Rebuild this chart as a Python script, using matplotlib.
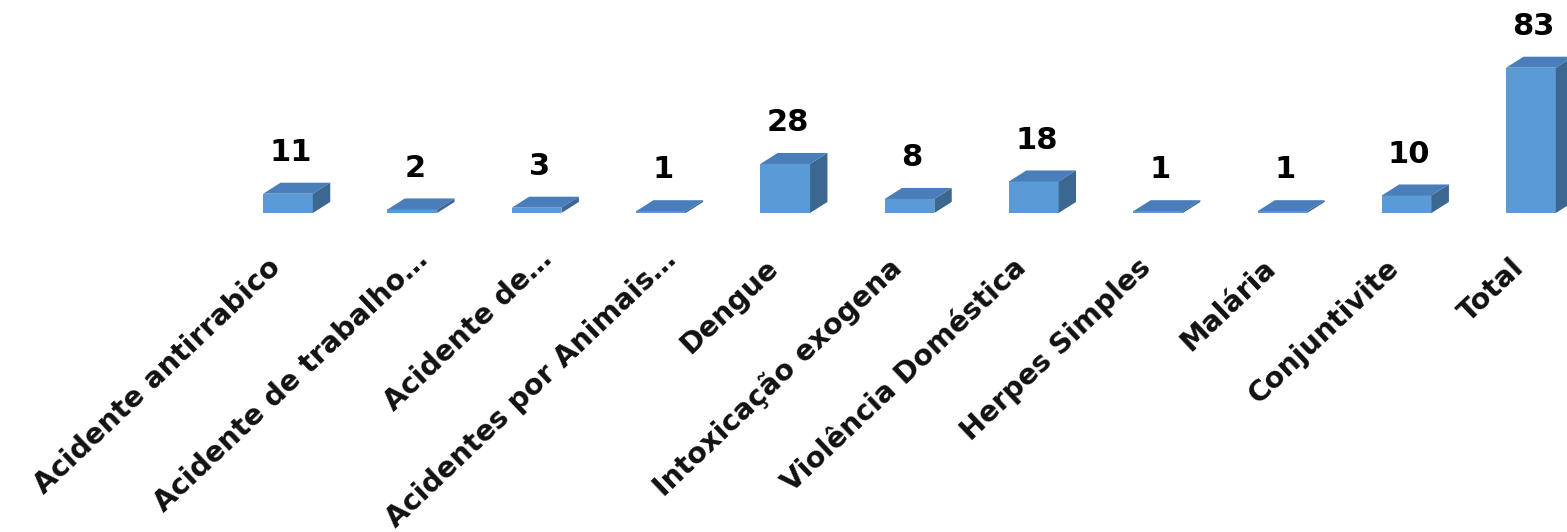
import matplotlib
matplotlib.use("Agg")
import matplotlib.pyplot as plt
from matplotlib.patches import Polygon

categories = ["Acidente antirrabico", "Acidente de trabalho…", "Acidente de…",
              "Acidentes por Animais…", "Dengue", "Intoxicação exogena",
              "Violência Doméstica", "Herpes Simples", "Malária", "Conjuntivite", "Total"]
values = [11, 2, 3, 1, 28, 8, 18, 1, 1, 10, 83]

plt.rcParams['font.family'] = ['DejaVu Sans']

fig = plt.figure(figsize=(15.67, 5.32), dpi=100)
ax = fig.add_axes([0, 0, 1, 1])
ax.set_xlim(-2.317, 10.29)
ax.set_ylim(-182.3, 121.7)
ax.axis('off')

front = '#5B9BD5'
top = '#4A7EBB'
side = '#3B6791'
w = 0.40      # bar front width (x units)
dx = 0.14     # depth offset x
dy = 6.3      # depth offset y (value units)

for i, v in enumerate(values):
    x0, x1 = i - w / 2, i + w / 2
    ax.add_patch(Polygon([(x0, 0), (x1, 0), (x1, v), (x0, v)], closed=True,
                         facecolor=front, edgecolor='none'))
    ax.add_patch(Polygon([(x0, v), (x1, v), (x1 + dx, v + dy), (x0 + dx, v + dy)],
                         closed=True, facecolor=top, edgecolor='none'))
    ax.add_patch(Polygon([(x1, 0), (x1 + dx, dy), (x1 + dx, v + dy), (x1, v)],
                         closed=True, facecolor=side, edgecolor='none'))
    ax.text(i + 0.02, v + dy + 9, str(v), ha='center', va='bottom',
            fontsize=22, fontweight='bold', color='black')
    # truncated labels sit a little further up and right, like the original
    cut = categories[i].endswith('…')
    lx = i - 0.09 + (0.18 if cut else 0.0)
    ly = -29 + (5 if cut else 0)
    ax.text(lx, ly, categories[i], rotation=43.5, rotation_mode='anchor',
            ha='right', va='center', fontsize=20.5, fontweight='bold', color='#111111')

fig.savefig('out.png', dpi=100)
